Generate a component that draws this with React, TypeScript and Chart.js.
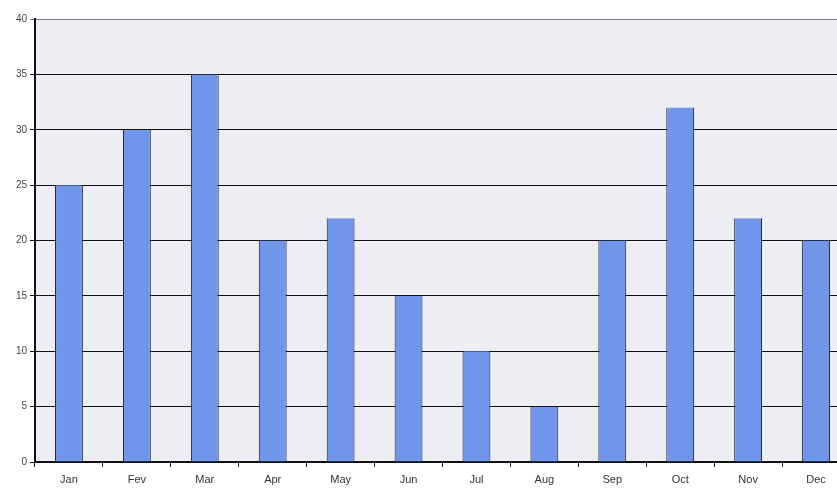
import React, { useEffect, useRef } from "react";
import { Chart, registerables } from "chart.js";

Chart.register(...registerables);

const categories = ["Jan", "Fev", "Mar", "Apr", "May", "Jun", "Jul", "Aug", "Sep", "Oct", "Nov", "Dec"];
const values = [25, 30, 35, 20, 22, 15, 10, 5, 20, 32, 22, 20];
const yTicks = [0, 5, 10, 15, 20, 25, 30, 35, 40];

const plotBg = {
  id: "plotBg",
  beforeDraw(chart: any) {
    const { ctx, chartArea } = chart;
    ctx.save();
    ctx.fillStyle = "#ededf4";
    ctx.fillRect(chartArea.left, chartArea.top, chartArea.right - chartArea.left, chartArea.bottom - chartArea.top);
    ctx.restore();
  },
};

export default function App() {
  const ref = useRef<HTMLCanvasElement>(null);
  useEffect(() => {
    const chart = new Chart(ref.current!, {
      type: "bar",
      data: {
        labels: categories,
        datasets: [
          {
            data: values,
            backgroundColor: "#6f96ea",
            borderColor: "#1a1a2a",
            borderWidth: { left: 1, right: 1, top: 0, bottom: 0 },
            borderSkipped: false,
            barPercentage: 0.82,
            categoryPercentage: 0.5,
          },
        ],
      },
      options: {
        animation: false,
        responsive: false,
        maintainAspectRatio: false,
        layout: { padding: { left: 0, top: 19, right: 0, bottom: 0 } },
        plugins: { legend: { display: false }, tooltip: { enabled: false } },
        scales: {
          x: {
            grid: { display: true, drawOnChartArea: false, drawTicks: true, tickLength: 5, color: "#222", offset: true },
            border: { color: "#111", width: 2 },
            ticks: { color: "#333", font: { family: "Arial, Liberation Sans", size: 11 }, padding: 6 },
            afterFit(scale: any) { scale.height = 28; },
          },
          y: {
            min: 0,
            max: 40,
            afterBuildTicks(scale: any) { scale.ticks = yTicks.map((v) => ({ value: v })); },
            grid: {
              color: (c: any) => (c.tick && c.tick.value === 40 ? "#7a7a8a" : "#111"),
              lineWidth: 1,
              tickLength: 5,
            },
            border: { color: "#111", width: 2 },
            ticks: { color: "#444", font: { family: "Arial, Liberation Sans", size: 10 }, padding: 3 },
            afterFit(scale: any) { scale.width = 35; },
          },
        },
      },
      plugins: [plotBg],
    });
    return () => chart.destroy();
  }, []);
  return (
    <div style={{ position: "fixed", left: 0, top: 0, width: 837, height: 490, overflow: "hidden", background: "#fff" }}>
      <canvas ref={ref} width={850} height={490} style={{ display: "block" }} />
    </div>
  );
}
